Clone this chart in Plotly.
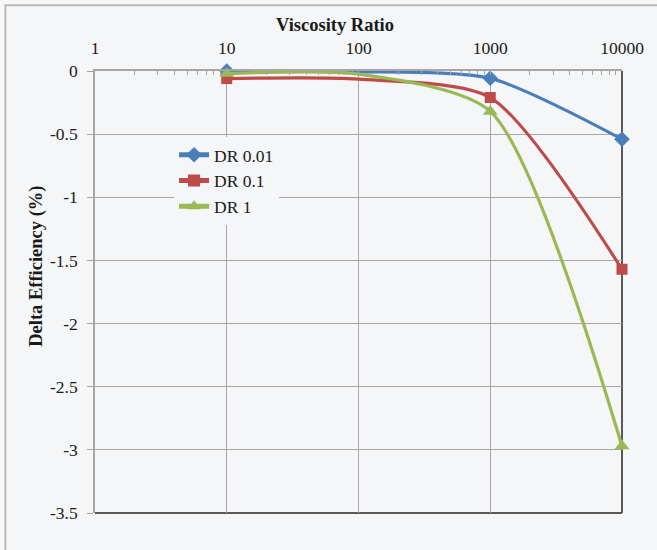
import plotly.graph_objects as go

# Viscosity ratio (log axis) and efficiency change per displacement ratio
viscosity_ratio = [10, 100, 1000, 10000]
dr_001 = [0.0, -0.005, -0.058, -0.54]
dr_01 = [-0.06, -0.065, -0.21, -1.57]
dr_1 = [-0.02, -0.025, -0.32, -2.97]

series_names = ["DR 0.01", "DR 0.1", "DR 1"]
x_tick_vals = [1, 10, 100, 1000, 10000]
x_tick_text = ["1", "10", "100", "1000", "10000"]
y_tick_vals = [0, -0.5, -1, -1.5, -2, -2.5, -3, -3.5]
y_tick_text = ["0", "-0.5", "-1", "-1.5", "-2", "-2.5", "-3", "-3.5"]

FONT = "Liberation Serif"
BG = "#f4f6f8"
GRID = "#a6a6a6"
TEXT = "#1a1a1a"
colors = ["#4a7ebb", "#be4b48", "#98b954"]
symbols = ["diamond", "square", "triangle-up"]
sizes = [12, 11, 13]
# the 100 point carries no marker
marker_show = [1, 0, 1, 1]

fig = go.Figure()
for name, ys, c, sym, sz in zip(series_names, [dr_001, dr_01, dr_1], colors, symbols, sizes):
    fig.add_trace(go.Scatter(
        x=viscosity_ratio, y=ys, name=name, mode="lines+markers",
        line=dict(color=c, width=3.2, shape="spline", smoothing=0.7),
        marker=dict(symbol=sym, color=c, size=[sz * m for m in marker_show],
                    opacity=1, line=dict(width=0)),
        cliponaxis=False,
    ))

minor_vals = [m * 10 ** d for d in range(4) for m in range(2, 10)]

fig.update_layout(
    width=657, height=550,
    margin=dict(l=95, r=35, t=71, b=37),
    paper_bgcolor=BG, plot_bgcolor=BG,
    font=dict(family=FONT, size=17, color=TEXT),
    showlegend=True,
    legend=dict(
        x=0.150, y=0.851, xanchor="left", yanchor="top",
        bgcolor=BG, borderwidth=0, itemwidth=30,
        font=dict(family=FONT, size=17.5, color=TEXT),
        tracegroupgap=0, itemsizing="constant",
    ),
    xaxis=dict(
        type="log", range=[0, 4], side="top",
        tickmode="array", tickvals=x_tick_vals, ticktext=x_tick_text,
        ticks="inside", ticklen=4, tickcolor=GRID,
        ticklabelstandoff=8,
        showgrid=True, gridcolor=GRID, gridwidth=1,
        showline=True, linecolor=GRID, linewidth=1.5,
        zeroline=False,
        minor=dict(tickmode="array", tickvals=minor_vals, ticks="inside",
                   ticklen=4, tickcolor=GRID, showgrid=False),
        tickfont=dict(family=FONT, size=17.5, color=TEXT),
    ),
    yaxis=dict(
        range=[-3.5, 0],
        tickmode="array", tickvals=y_tick_vals, ticktext=y_tick_text,
        ticks="outside", ticklen=6, tickcolor=GRID,
        ticklabelstandoff=6,
        showgrid=True, gridcolor=GRID, gridwidth=1,
        showline=True, linecolor=GRID, linewidth=1.5,
        zeroline=False,
        tickfont=dict(family=FONT, size=17.5, color=TEXT),
    ),
    annotations=[
        dict(text="<b>Viscosity Ratio</b>", xref="paper", yref="paper",
             x=0.455, y=1.104, showarrow=False, xanchor="center", yanchor="middle",
             font=dict(family=FONT, size=18.5, color=TEXT)),
        dict(text="<b>Delta Efficiency (%)</b>", xref="paper", yref="paper",
             x=-0.110, y=0.557, showarrow=False, textangle=-90,
             xanchor="center", yanchor="middle",
             font=dict(family=FONT, size=18.5, color=TEXT)),
    ],
    shapes=[
        # backdrop behind the legend that hides the grid there
        dict(type="rect", xref="paper", yref="paper",
             x0=0.072, x1=0.424, y0=0.68, y1=0.851,
             line=dict(width=0), fillcolor=BG, layer="between"),
        # plot-area frame on the right and bottom
        dict(type="line", xref="paper", yref="paper", x0=1, x1=1, y0=0, y1=1,
             line=dict(color="#595959", width=2), layer="below"),
        dict(type="line", xref="paper", yref="paper", x0=0, x1=1, y0=0, y1=0,
             line=dict(color="#595959", width=2), layer="below"),
        # chart outer border
        dict(type="rect", xref="paper", yref="paper",
             x0=-0.170, x1=1.08, y0=-0.10, y1=1.149,
             line=dict(color="#b8b8b8", width=2), fillcolor="rgba(0,0,0,0)",
             layer="below"),
    ],
)

fig.write_html("out.html")
